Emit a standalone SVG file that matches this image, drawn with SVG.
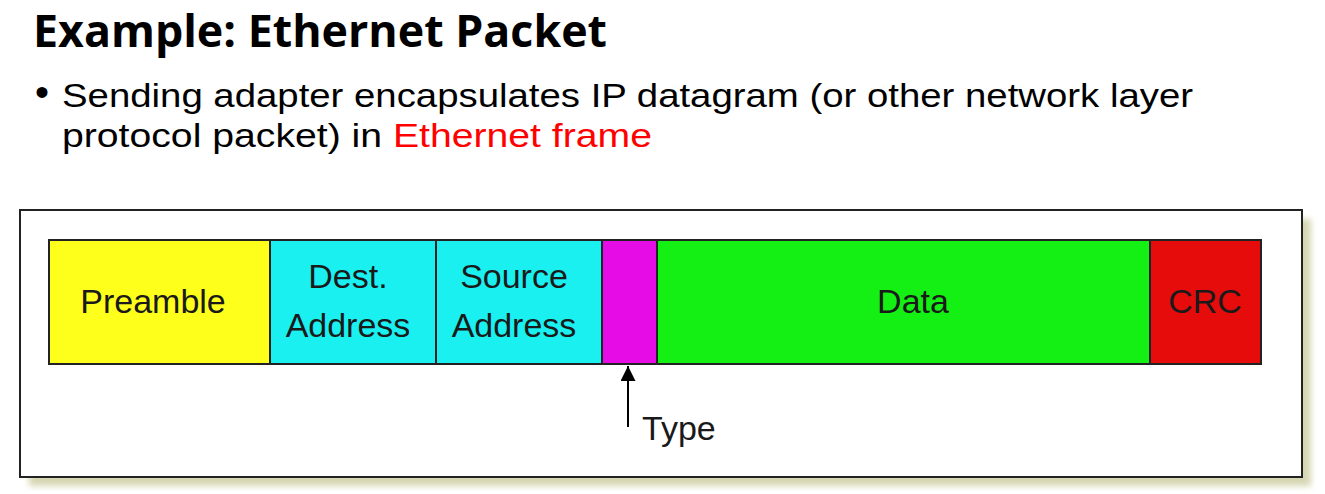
<svg xmlns="http://www.w3.org/2000/svg" width="1325" height="494" viewBox="0 0 1325 494">
<style>
.t{font-family:"Open Sans","Liberation Sans",sans-serif;fill:#000}
.b{font-family:"Liberation Sans",Arial,sans-serif;fill:#000}
.f{font-family:"Liberation Sans",Arial,sans-serif;font-size:34px;fill:#1a1a1a;text-anchor:middle}
.c{stroke:#222;stroke-width:2}
</style>
<defs>
<filter id="blur" x="-5%" y="-5%" width="110%" height="110%"><feGaussianBlur stdDeviation="3"/></filter>
<marker id="ah" viewBox="0 0 10 10" refX="10" refY="5" markerWidth="19" markerHeight="15" markerUnits="userSpaceOnUse" orient="auto">
<path d="M0,0 L10,5 L0,10 Z" fill="#000"/>
</marker>
</defs>
<rect width="1325" height="494" fill="#fff"/>
<g id="title">
<text class="t" x="33" y="47" font-size="45" font-weight="bold" textLength="574" lengthAdjust="spacingAndGlyphs">Example: Ethernet Packet</text>
</g>
<g id="bullet">
<text class="b" x="35" y="106" font-size="40">•</text>
<text class="b" x="62" y="107" font-size="34" textLength="1131" lengthAdjust="spacingAndGlyphs">Sending adapter encapsulates IP datagram (or other network layer</text>
<text class="b" x="62" y="147" font-size="34" textLength="590" lengthAdjust="spacingAndGlyphs">protocol packet) in <tspan fill="#ff0000">Ethernet frame</tspan></text>
</g>
<g id="frame">
<rect x="29" y="219" width="1282" height="267" fill="#d6d6b2" filter="url(#blur)"/>
<rect x="20" y="210" width="1282" height="267" fill="#fff" stroke="#222" stroke-width="2"/>
</g>
<g id="preamble">
<rect class="c" x="49" y="240" width="221" height="124" fill="#ffff1c"/>
<text class="f" x="153" y="313">Preamble</text>
</g>
<g id="dest">
<rect class="c" x="270" y="240" width="166" height="124" fill="#1af0f0"/>
<text class="f" x="348" y="288">Dest.</text>
<text class="f" x="348" y="337">Address</text>
</g>
<g id="source">
<rect class="c" x="436" y="240" width="166" height="124" fill="#1af0f0"/>
<text class="f" x="514" y="288">Source</text>
<text class="f" x="514" y="337">Address</text>
</g>
<g id="type">
<rect class="c" x="602" y="240" width="55" height="124" fill="#e60ce6"/>
</g>
<g id="data">
<rect class="c" x="657" y="240" width="493" height="124" fill="#14f014"/>
<text class="f" x="913" y="313">Data</text>
</g>
<g id="crc">
<rect class="c" x="1150" y="240" width="111" height="124" fill="#e60c0c"/>
<text class="f" x="1205" y="313">CRC</text>
</g>
<g id="connectors">
<line x1="628" y1="427" x2="628" y2="366" stroke="#000" stroke-width="2" marker-end="url(#ah)"/>
</g>
<g id="typelabel">
<text class="f" x="642" y="440" style="text-anchor:start">Type</text>
</g>
</svg>
